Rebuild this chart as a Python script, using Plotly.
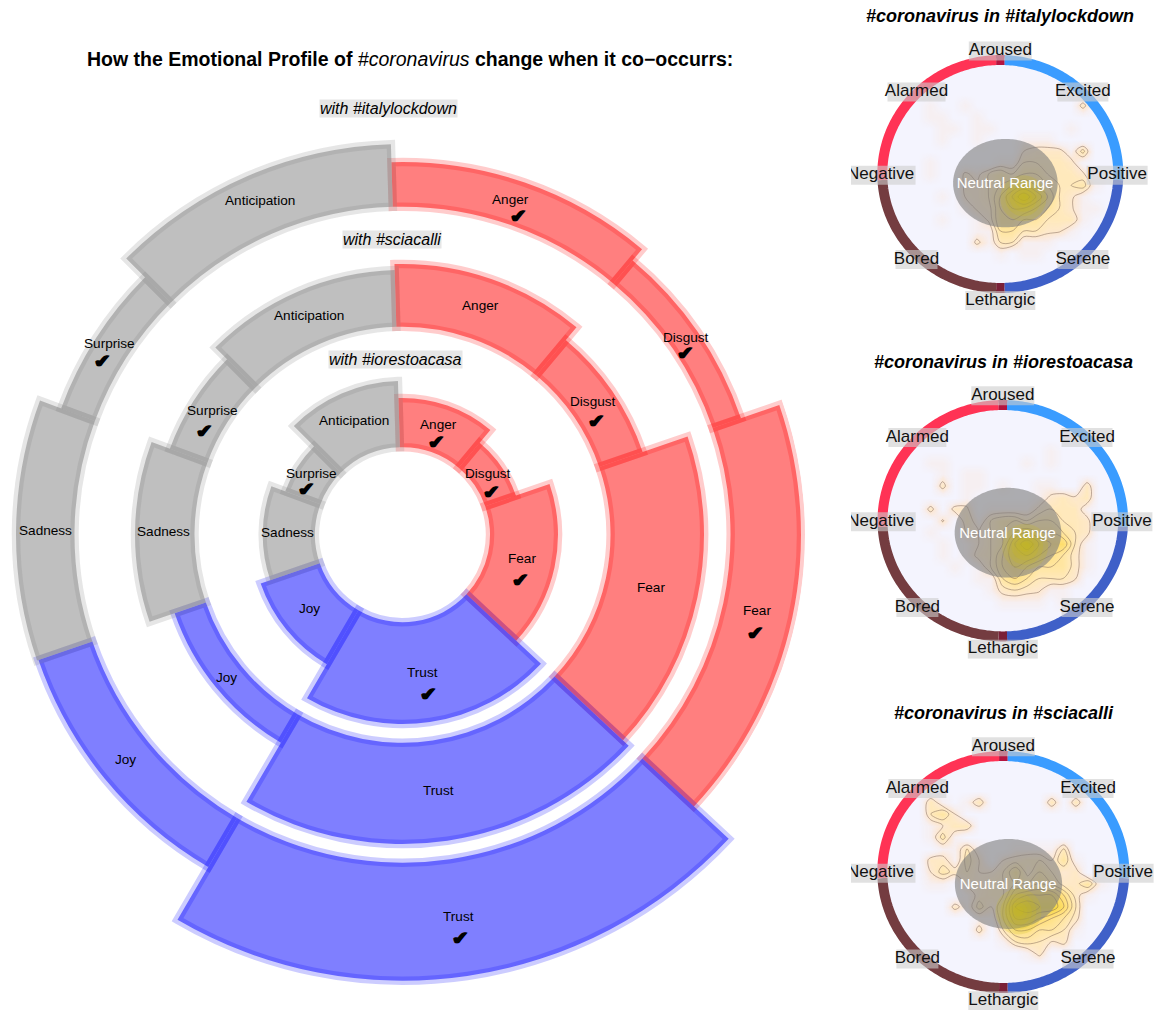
import numpy as np
import plotly.graph_objects as go

W, H = 1159, 1010
FONT = "Liberation Sans"

# ---- main chart data -----------------------------------------------------
emotions = ["Anger", "Disgust", "Fear", "Trust", "Joy", "Sadness", "Surprise", "Anticipation"]
families = ["red", "red", "red", "blue", "blue", "grey", "grey", "grey"]
sector_edges = [-1.7, 40, 71, 133, 210.3, 251, 290.3, 315, 358.3]
base_italy = 328
base_sciac = 208
base_iores = 87.5
top_italy = [372.7, 358, 398.5, 446, 385, 386.5, 364, 390.7]
top_sciac = [270.7, 254, 301.5, 309.3, 241, 267.5, 248, 264.7]
top_iores = [136.7, 120, 155.5, 189.3, 150, 139.8, 125, 153.7]
checked_italy = ["Anger", "Disgust", "Fear", "Trust", "Surprise"]
checked_sciac = ["Disgust", "Surprise"]
checked_iores = ["Anger", "Disgust", "Fear", "Trust", "Surprise"]

# ---- emotion-map data ----------------------------------------------------
map_labels = ["Aroused", "Excited", "Positive", "Serene", "Lethargic", "Bored", "Negative", "Alarmed"]
grid_x = [-0.7, -0.6, -0.5, -0.4, -0.3, -0.2, -0.1, 0.0, 0.1, 0.2, 0.3, 0.4, 0.5, 0.6, 0.7, 0.8, 0.9]
grid_y = [0.7, 0.6, 0.5, 0.4, 0.3, 0.2, 0.1, 0.0, -0.1, -0.2, -0.3, -0.4, -0.5, -0.6, -0.7, -0.8]
density_italy = [
 [1,0,0,1,0,0,0,0,0,0,0,0,0,2.6,0],
 [1,1,0,0,1,0,0,0,0,0,0,0,0,0,0],
 [0,1,1,0,1,1,0,0,0,0,0,0,1,0,0],
 [0,1,0,0,1,0,0,0,1,1,1,0,0,0,0],
 [0,0,0,0,0,0,0,0,2,2.5,2.5,2.5,1,3.5,0],
 [1,0,0,0,0,0,1,1,3,3,3,3,2.5,0.5,0],
 [1,0,0,2.3,1.5,3,4,3,4,4,3,3,3,2.3,0],
 [0,0,0,2.3,2.3,3,4,5,6,5,4,3,3,3.6,1],
 [0,1,0,2,2.3,3,5,7,9,7,5,3,2.3,1,0],
 [0,0,0,1,2.2,2.5,5,6,6,5,4,3,2.2,1,1],
 [0,1,0,0,1,2.2,5,5,4,4,3,3,3,1,0],
 [0,0,0,0,1,1,4,4,3,3,2.3,2.2,1,0,0],
 [0,0,0,0,2.4,1,3,3,1,1,1,0,0,0,0],
 [0,0,0,0,0,0,1,0,1,1,0,0,0,0,0],
]
density_iores = [
 [0,0,0,0,0,0,0,0,0,0,1,0,0,0,0],
 [1,1,0,0,0,0,0,0,1,0,1,0,0,0,0],
 [0,1,0,1,1,0,0,0,0,0,0,0,0,0,0],
 [0,2.6,0,1,1,0,1,0,0,1,1,0,0,2.8,0],
 [0,0,0,1,0,0,0,0,0,1,2.3,3,2.2,3,0],
 [2.6,0,2.6,2.3,0,1,1,1,1,2.3,3,3,3,1,0],
 [0,2.2,0,3,1,3,4,4,3,4,4,3,3,2.5,0],
 [1,0,0,2.2,2,3,4,5,6,5,5,4,3,2.5,0],
 [0,1,0,1,2,3,4,7,9,7,6,6,3,1,0],
 [0,1,0,1,2.5,3,5,7,7,6,5,4,2.5,1,0],
 [0,0,1,0,1,3,5,6,5,4,4,4,2.5,1,0],
 [0,0,0,0,1,1,4,5,4,3,3,3,2.2,0,0],
 [0,0,0,0,0,1,2.5,3,2.5,2.2,1,1,0,0,0],
 [0,0,0,0,0,0,1,1,1,1,0,1,0,0,0],
]
density_sciac = [
 [3,1,0,1,3,0,0,0,0,0,3,0,3,0,0],
 [3,4,2,0,0,0,0,0,0,0,0,0,0,0,0],
 [1,2,3,3,0,0,0,0,0,0,0,0,0,0,0],
 [1,3.5,1,0,0,0,0,0,0,0,0,0,0,0,0],
 [0,1,1,3,1,0,0,1,1,1,1,3,0,0,0],
 [2.6,2.6,1,3.5,2,0,2,2.5,3,3,2,4,1,0,0],
 [2,3.5,2.6,3,2,2,3,5,2.5,4,3,2,2.6,0,0],
 [1,1,0,2.3,2.3,3,3,4,4,5,4,2.5,2.6,4,1],
 [0,0,0,1,2.5,3,3,6,7,7,7,5,2.5,1,0],
 [0,0,2.6,1,3.5,2,4,8,9,8,8,6,3,0,0],
 [0,0,0,0,1,1,4,7,7,6,5,4,2.5,0,0],
 [0,0,0,0,2.6,0,3,5,5,4,4,3,1,0,0],
 [0,0,0,0,0,0,1,3,3.5,3,2,2.6,0,0,0],
 [0,0,0,0,0,0,0,0,1,2.6,0,0,0,0,0],
]
peak_italy = (0.195, -0.213)
peak_iores = (0.185, -0.225)
peak_sciac = (0.125, -0.34)

# ---- layout-only settings ------------------------------------------------
FILL = {"red": "rgba(255,0,0,0.5)", "blue": "rgba(0,0,255,0.5)", "grey": "rgba(128,128,128,0.5)"}
EDGE = {"red": "rgba(255,0,0,0.2)", "blue": "rgba(0,0,255,0.2)", "grey": "rgba(128,128,128,0.2)"}
TRUST = emotions.index("Trust")
CENTER = (402.5, 534.7)
RINGS = [
    dict(key="polar", R=402.5, base=base_italy, top=top_italy, skip=[TRUST]),
    dict(key="polar2", R=320, base=base_sciac, top=top_sciac, skip=[]),
    dict(key="polar3", R=200, base=base_iores, top=top_iores, skip=[]),
]
LABEL_PX = {
    "italy": {"Anger": (510, 200), "Disgust": (686, 337), "Fear": (757, 610), "Trust": (458, 916),
              "Joy": (125, 759), "Sadness": (45, 530), "Surprise": (109, 343), "Anticipation": (260, 201)},
    "sciac": {"Anger": (480, 305), "Disgust": (593, 401), "Fear": (651, 587), "Trust": (439, 790),
              "Joy": (226, 677), "Sadness": (163, 531), "Surprise": (212, 410), "Anticipation": (309, 315)},
    "iores": {"Anger": (438, 425), "Disgust": (488, 473), "Fear": (522, 558), "Trust": (422, 672),
              "Joy": (309, 608), "Sadness": (287, 532), "Surprise": (311, 473), "Anticipation": (354, 421)},
}
CHECK_PX = {
    "italy": {"Anger": (518, 216), "Disgust": (685, 353), "Fear": (755, 633), "Trust": (460, 938), "Surprise": (102, 361)},
    "sciac": {"Disgust": (596, 421), "Surprise": (204, 431)},
    "iores": {"Anger": (436, 442), "Disgust": (491, 492), "Fear": (520, 580), "Trust": (428, 694), "Surprise": (306, 489)},
}
CHECKED = {"italy": checked_italy, "sciac": checked_sciac, "iores": checked_iores}
CHECK_SHADOW = "1px 0 0 #000, -1px 0 0 #000"

fig = go.Figure()
annotations = []
shapes = []
layout = {}


def px_note(text, x, y, size=12, shadow=None, **kw):
    fam = kw.pop("family", FONT)
    color = kw.pop("color", "black")
    font = dict(family=fam, size=size, color=color)
    if shadow:
        font["shadow"] = shadow
    annotations.append(dict(text=text, x=x / W, y=1 - y / H, xref="paper", yref="paper",
                            xanchor="center", yanchor="middle", showarrow=False, font=font, **kw))


def add_bars(key, base, top, keep):
    e = sector_edges
    fig.add_trace(go.Barpolar(
        theta=[(e[i] + e[i + 1]) / 2 for i in keep], width=[e[i + 1] - e[i] for i in keep],
        base=[base] * len(keep), r=[top[i] - base for i in keep], text=[emotions[i] for i in keep],
        marker=dict(color=[FILL[families[i]] for i in keep],
                    line=dict(color=[EDGE[families[i]] for i in keep], width=8.5)),
        subplot=key, showlegend=False, hoverinfo="text"))


def polar_axes(R):
    return dict(bgcolor="rgba(0,0,0,0)", radialaxis=dict(range=[0, R], visible=False),
                angularaxis=dict(direction="clockwise", rotation=90, visible=False, thetaunit="degrees"))


cx, cy = CENTER
for ring in RINGS:
    R = ring["R"]
    keep = [i for i in range(len(emotions)) if i not in ring["skip"]]
    add_bars(ring["key"], ring["base"], ring["top"], keep)
    layout[ring["key"]] = dict(domain=dict(x=[(cx - R) / W, (cx + R) / W], y=[1 - (cy + R) / H, 1 - (cy - R) / H]),
                               **polar_axes(R))

# The outer Trust wedge reaches past the page's left edge as a full circle, so it gets a sector subplot.
R = 454
s0, s1 = -127, -38
left, right = np.cos(np.radians(s0)), np.cos(np.radians(s1))
add_bars("polar4", base_italy, top_italy, [TRUST])
layout["polar4"] = dict(domain=dict(x=[(cx + left * R) / W, (cx + right * R) / W], y=[1 - (cy + R) / H, 1 - cy / H]),
                        sector=[s0, s1], **polar_axes(R))

for name in ["italy", "sciac", "iores"]:
    for lab, (x, y) in LABEL_PX[name].items():
        px_note(lab, x, y, size=13.6)
    for lab in CHECKED[name]:
        x, y = CHECK_PX[name][lab]
        px_note("\u2714", x, y, size=20, family="DejaVu Sans", shadow=CHECK_SHADOW)

px_note("<b>How the Emotional Profile of </b><i>#coronavirus</i><b> change when it co\u2212occurrs:</b>", 410, 59, size=19.5)
for txt, x, y in [("with #italylockdown", 388, 109), ("with #sciacalli", 392, 239), ("with #iorestoacasa", 395, 359)]:
    px_note("<i>%s</i>" % txt, x, y, size=16, bgcolor="#e6e6e6", borderpad=0)

# ---- small emotion maps --------------------------------------------------
PANELS = [
    dict(title="#coronavirus in #italylockdown", tx=1000, ty=16, c=(1000.3, 174), r=(118, 114), z=density_italy, ey=-0.08, peak=peak_italy),
    dict(title="#coronavirus in #iorestoacasa", tx=1003, ty=362, c=(1002.8, 520.7), r=(120.3, 115.7), z=density_iores, ey=-0.104, peak=peak_iores),
    dict(title="#coronavirus in #sciacalli", tx=1004, ty=713, c=(1003.3, 872), r=(121, 116), z=density_sciac, ey=-0.103, peak=peak_sciac),
]
ARC_EDGES = [2, 93, 178, 182, 267, 358, 362]
ARC_COLORS = ["#3a9cff", "#3f60c8", "#7a2038", "#743c40", "#ff3355", "#b5143f"]
LABEL_XY = [(0, 1.08), (0.70, 0.72), (0.99, -0.01), (0.70, -0.75), (0, -1.11), (-0.71, -0.75), (-1.015, -0.01), (-0.71, 0.72)]
LABEL_W = [63, 51, 61, 51, 70, 42, 70, 58]
LABEL_H = 19
GLOW_SIZES = [46, 36, 27, 18, 10]
COLORSCALE = [[0, "rgba(255,225,190,0)"], [0.11, "rgba(255,222,195,0.22)"], [0.22, "rgba(255,228,195,0.75)"],
              [0.33, "rgba(255,232,185,0.95)"], [0.66, "rgba(255,222,110,1)"], [1, "rgba(238,214,30,1)"]]

for i, p in enumerate(PANELS, start=1):
    sfx = "" if i == 1 else str(i)
    cx, cy = p["c"]
    rx, ry = p["r"]
    xa, ya = "x" + sfx, "y" + sfx
    half = 138
    layout["xaxis" + sfx] = dict(domain=[851 / W, 1], range=[(851 - cx) / rx, (W - cx) / rx], visible=False, fixedrange=True, anchor=ya)
    layout["yaxis" + sfx] = dict(domain=[1 - (cy + half) / H, 1 - (cy - half) / H], range=[-half / ry, half / ry],
                                 visible=False, fixedrange=True, anchor=xa)
    shapes.append(dict(type="circle", xref=xa, yref=ya, x0=-1, x1=1, y0=-1, y1=1, layer="below",
                       fillcolor="#f4f4fe", line=dict(width=0)))
    z = np.pad(np.array(p["z"], dtype=float), 1)  # empty border so blobs close inside the grid
    fig.add_trace(go.Heatmap(x=grid_x, y=grid_y, z=z, zmin=0, zmax=9, zsmooth="best", colorscale=COLORSCALE,
                             showscale=False, hoverinfo="skip", xaxis=xa, yaxis=ya))
    fig.add_trace(go.Contour(x=grid_x, y=grid_y, z=z, showscale=False, hoverinfo="skip", xaxis=xa, yaxis=ya,
                             contours=dict(coloring="none", start=2, end=9, size=1),
                             line=dict(color="rgba(120,95,80,0.6)", width=0.8, smoothing=1)))
    for a0, a1, col in zip(ARC_EDGES[:-1], ARC_EDGES[1:], ARC_COLORS):
        t = np.radians(np.linspace(a0, a1, 90))
        fig.add_trace(go.Scatter(x=np.sin(t), y=np.cos(t), mode="lines", line=dict(color=col, width=10, simplify=False),
                                 showlegend=False, hoverinfo="skip", xaxis=xa, yaxis=ya))
    t = np.radians(np.linspace(0, 360, 181))
    fig.add_trace(go.Scatter(x=0.043 + 0.443 * np.sin(t), y=p["ey"] + 0.388 * np.cos(t), mode="lines", fill="toself",
                             fillcolor="rgba(128,128,128,0.62)", line=dict(width=0, simplify=False), showlegend=False,
                             hoverinfo="skip", xaxis=xa, yaxis=ya))
    for size in GLOW_SIZES:
        fig.add_trace(go.Scatter(x=[p["peak"][0]], y=[p["peak"][1]], mode="markers",
                                 marker=dict(size=size, color="rgba(205,192,20,0.2)", line=dict(width=0)),
                                 showlegend=False, hoverinfo="skip", xaxis=xa, yaxis=ya))
    for (lx, ly), w in zip(LABEL_XY, LABEL_W):
        dx, dy = w / 2 / rx, LABEL_H / 2 / ry
        fig.add_trace(go.Scatter(x=[lx - dx, lx + dx, lx + dx, lx - dx, lx - dx], y=[ly - dy, ly - dy, ly + dy, ly + dy, ly - dy],
                                 mode="lines", fill="toself", fillcolor="rgba(205,205,205,0.6)", line=dict(width=0),
                                 showlegend=False, hoverinfo="skip", xaxis=xa, yaxis=ya))
    fig.add_trace(go.Scatter(x=[q[0] for q in LABEL_XY], y=[q[1] for q in LABEL_XY], text=map_labels, mode="text",
                             textposition="middle center", cliponaxis=True,
                             textfont=dict(family=FONT, size=17, color="#111"), showlegend=False,
                             hoverinfo="skip", xaxis=xa, yaxis=ya))
    fig.add_trace(go.Scatter(x=[0.04], y=[p["ey"] - 0.01], text=["Neutral Range"], mode="text", textposition="middle center",
                             textfont=dict(family=FONT, size=15, color="white"), showlegend=False,
                             hoverinfo="skip", xaxis=xa, yaxis=ya))
    px_note("<b><i>%s</i></b>" % p["title"], p["tx"], p["ty"], size=18)

fig.update_layout(width=W, height=H, margin=dict(l=0, r=0, t=0, b=0), paper_bgcolor="white", plot_bgcolor="rgba(0,0,0,0)",
                  showlegend=False, annotations=annotations, shapes=shapes, font=dict(family=FONT), **layout)
fig.write_html("out.html", config={"displayModeBar": False},
               post_script="document.body.style.margin='0';document.body.style.overflow='hidden';")
